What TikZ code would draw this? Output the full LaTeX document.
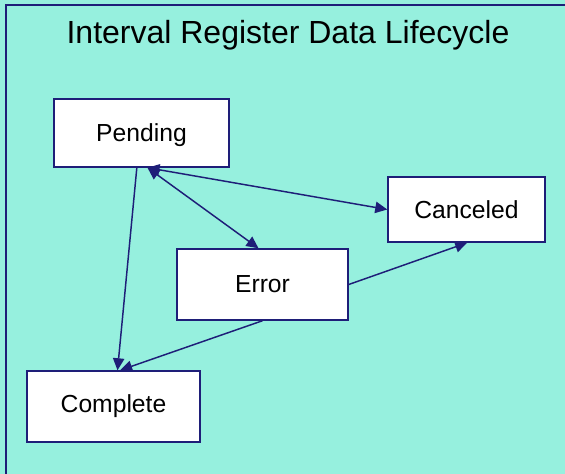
\documentclass[tikz,border=0pt]{standalone}
\usepackage{fontspec}
\setmainfont{Liberation Sans}
\usetikzlibrary{arrows.meta}
\definecolor{bgc}{RGB}{150,240,222}
\definecolor{navy}{RGB}{30,30,120}
\begin{document}
\begin{tikzpicture}[x=0.75pt,y=-0.75pt,
  state/.style={draw=navy,line width=1.1pt,fill=white,inner sep=0pt,font=\fontsize{18.5}{21}\selectfont},
  conn/.style={draw=navy,line width=1.1pt,-{Triangle[length=9pt,width=8.5pt]}},
  both/.style={draw=navy,line width=1.1pt,{Triangle[length=9pt,width=8.5pt]}-{Triangle[length=9pt,width=8.5pt]}}]
\useasboundingbox (0,0) rectangle (565,474);
\fill[bgc] (0,0) rectangle (565,474);
\draw[navy,line width=1.1pt] (6,5) rectangle (600,520);
\node[font=\fontsize{24}{28}\selectfont] (title) at (288,35) {Interval Register Data Lifecycle};
\node[state,minimum width=175*0.75pt,minimum height=68*0.75pt,text depth=-1.5pt] (pending) at (141.5,133) {Pending};
\node[state,minimum width=157*0.75pt,minimum height=65*0.75pt] (canceled) at (466.5,209.5) {Canceled};
\node[state,minimum width=171*0.75pt,minimum height=71*0.75pt] (error) at (262.5,284.5) {Error};
\node[state,minimum width=173*0.75pt,minimum height=71*0.75pt] (complete) at (113.5,406.5) {Complete};
\coordinate (p1) at ([xshift=4.5pt]pending.south);
\draw[both] (p1) -- (canceled.west);
\draw[both] (p1) -- ([xshift=-3pt]error.north);
\draw[conn] ([xshift=-3.5pt]pending.south) -- ([xshift=3pt]complete.north);
\draw[conn] (error.south) -- ([xshift=5pt]complete.north);
\draw[conn] (error.east) -- ([xshift=0.5pt]canceled.south);
\end{tikzpicture}
\end{document}
